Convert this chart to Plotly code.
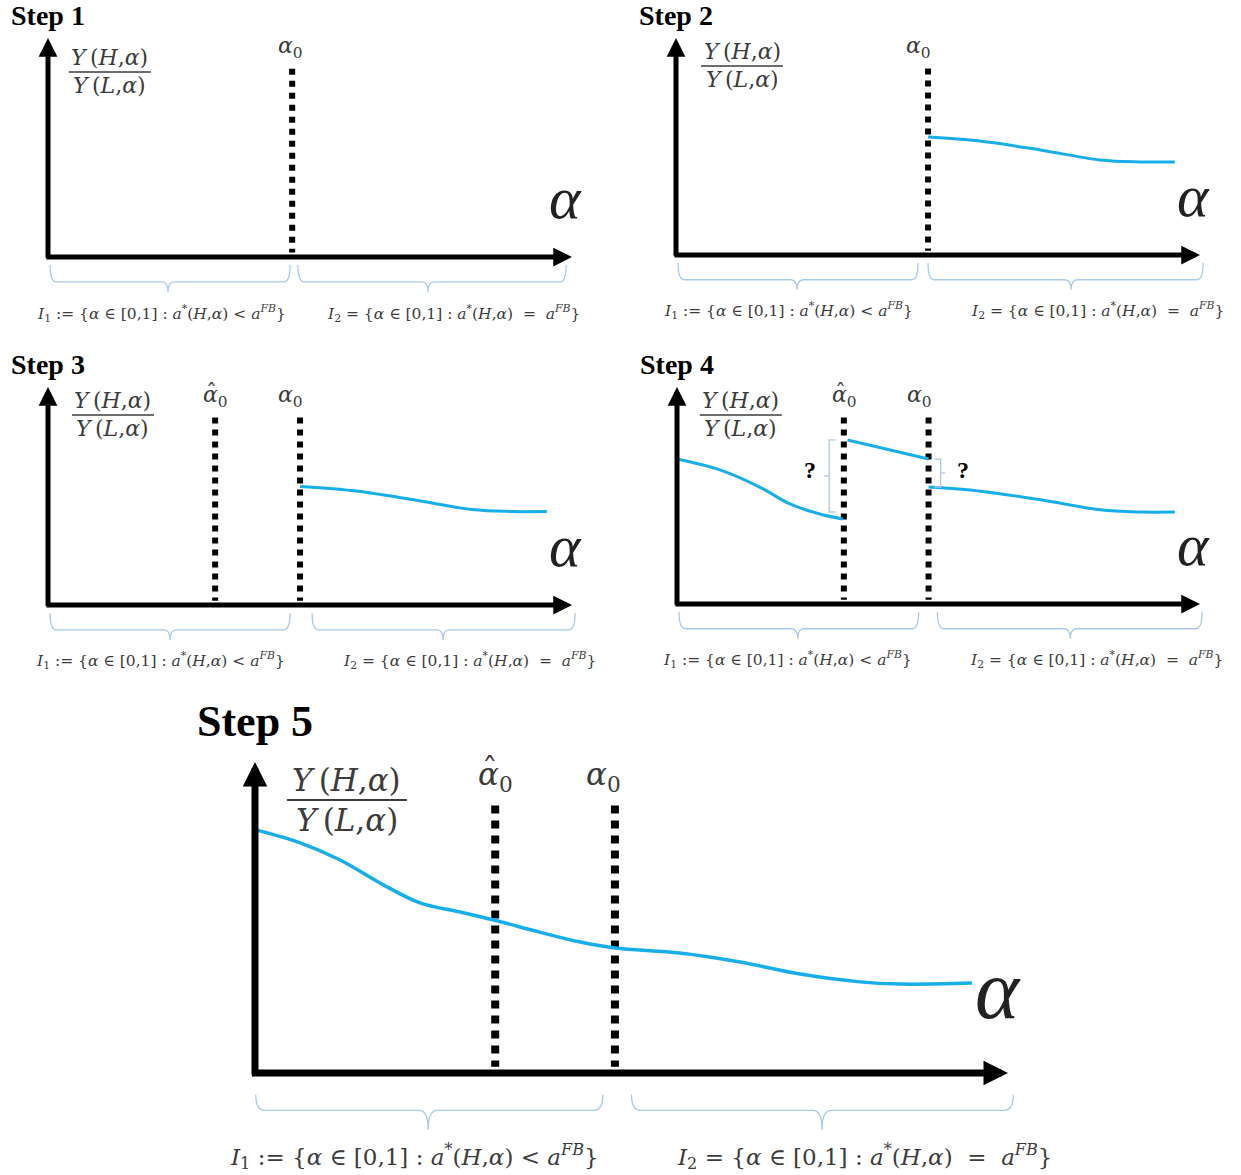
import plotly.graph_objects as go

W, H = 1241, 1175

# ---------------- data ----------------
steps = ["Step 1", "Step 2", "Step 3", "Step 4", "Step 5"]
alpha0_by_step = [0.466, 0.481, 0.481, 0.481, 0.478]
alpha_hat0 = 0.319

# ratio curve on I2 (steps 2-3)
right_alpha = [0.481, 0.580, 0.695, 0.809, 0.885, 0.952]
right_ratio = [0.544, 0.525, 0.484, 0.438, 0.429, 0.429]
# step 4: curve left of alpha_hat0, segment between the two cut-offs, curve on I2
left_alpha = [0.0, 0.082, 0.158, 0.216, 0.273, 0.317]
left_ratio = [0.668, 0.618, 0.539, 0.461, 0.415, 0.392]
mid_alpha = [0.326, 0.481]
mid_ratio = [0.756, 0.668]
right4_ratio = [0.539, 0.520, 0.480, 0.434, 0.424, 0.424]
# step 5: final continuous curve
final_alpha = [0.003, 0.060, 0.113, 0.166, 0.219, 0.272, 0.317, 0.378, 0.432,
               0.478, 0.564, 0.644, 0.724, 0.803, 0.857, 0.952]
final_ratio = [0.781, 0.740, 0.685, 0.611, 0.547, 0.518, 0.492, 0.453, 0.421,
               0.402, 0.386, 0.357, 0.318, 0.293, 0.286, 0.289]

I1_text = ("<i>I</i><sub>1</sub> := {<i>α</i> ∈ [0,1] : <i>a</i><sup>*</sup>(<i>H</i>,<i>α</i>) "
           "&lt; <i>a</i><sup><i>FB</i></sup>}")
I2_text = ("<i>I</i><sub>2</sub> = {<i>α</i> ∈ [0,1] : <i>a</i><sup>*</sup>(<i>H</i>,<i>α</i>) "
           " =  <i>a</i><sup><i>FB</i></sup>}")
num_text = "<i>Y</i>\u2009(<i>H</i>,<i>α</i>)"
den_text = "<i>Y</i>\u2009(<i>L</i>,<i>α</i>)"

# ---------------- layout geometry (pixels of the page) ----------------
panels = [
    dict(ox=48, oy=257, sx=524, sy=219, s=1.0, fy=0.845, fx=0.118,
         br=[(0.004, 0.462, 0.229), (0.477, 0.989, 0.725)], lab=(0.216, 0.773)),
    dict(ox=676, oy=255, sx=524, sy=217, s=1.0, fy=0.871, fx=0.126,
         br=[(0.004, 0.462, 0.231), (0.481, 1.006, 0.754)], lab=(0.214, 0.805)),
    dict(ox=48, oy=605, sx=524, sy=218, s=1.0, fy=0.872, fx=0.124,
         br=[(0.004, 0.462, 0.233), (0.504, 1.006, 0.754)], lab=(0.214, 0.805)),
    dict(ox=677, oy=604, sx=523, sy=217, s=1.0, fy=0.871, fx=0.122,
         br=[(0.004, 0.462, 0.231), (0.498, 1.004, 0.752)], lab=(0.212, 0.803)),
    dict(ox=255, oy=1073, sx=753, sy=311, s=1.44, fy=0.878, fx=0.122,
         br=[(0.001, 0.462, 0.230), (0.500, 1.007, 0.753)], lab=(0.212, 0.810)),
]
XR = [-0.06, 1.04]
YR = [-0.30, 1.18]

CURVE = "#17AEEA"
BRACE = "#A9C9EA"
TXT = "#3c3c3c"
SERIF = "Liberation Serif, Times New Roman, serif"
MATH = "DejaVu Serif, serif"

fig = go.Figure()
layout_axes = {}

for i, p in enumerate(panels):
    n = i + 1
    suf = "" if n == 1 else str(n)
    xa, ya = "x" + suf, "y" + suf
    ox, oy, sx, sy, s = p["ox"], p["oy"], p["sx"], p["sy"], p["s"]
    dx = [(ox + XR[0] * sx) / W, (ox + XR[1] * sx) / W]
    dy = [1 - (oy - YR[0] * sy) / H, 1 - (oy - YR[1] * sy) / H]
    dx = [max(0, dx[0]), min(1, dx[1])]
    dy = [max(0, dy[0]), min(1, dy[1])]
    layout_axes["xaxis" + suf] = dict(domain=dx, visible=False, anchor=ya, fixedrange=True,
                                      range=[(dx[0] * W - ox) / sx, (dx[1] * W - ox) / sx])
    layout_axes["yaxis" + suf] = dict(domain=dy, visible=False, anchor=xa, fixedrange=True,
                                      range=[(oy - (1 - dy[0]) * H) / sy, (oy - (1 - dy[1]) * H) / sy])

    a0 = alpha0_by_step[i]
    lw = 5 if s == 1 else 7
    dotw = 6 if s == 1 else 8
    dash = "6px,6px" if s == 1 else "8px,7px"

    def dotted(a, top):
        fig.add_trace(go.Scatter(x=[a, a], y=[top, 0.02], mode="lines", xaxis=xa, yaxis=ya,
                                 line=dict(color="black", width=dotw, dash=dash),
                                 showlegend=False, hoverinfo="skip"))

    def curve(xs, ys):
        fig.add_trace(go.Scatter(x=xs, y=ys, mode="lines", xaxis=xa, yaxis=ya,
                                 line=dict(color=CURVE, width=3 if s == 1 else 3.5, shape="spline"),
                                 showlegend=False, hoverinfo="skip"))

    # dotted cut-off lines
    dotted(a0, 0.86)
    if n >= 3:
        dotted(alpha_hat0, 0.86)

    # curves
    if n in (2, 3):
        curve(right_alpha, right_ratio)
    if n == 4:
        curve(left_alpha, left_ratio)
        curve(mid_alpha, mid_ratio)
        curve(right_alpha, right4_ratio)
    if n == 5:
        curve(final_alpha, final_ratio)

    # axes with arrows
    for (x0, y0, x1, y1) in [(0, -0.01, 0, 1.0), (-0.006, 0, 1.0, 0)]:
        fig.add_annotation(x=x1, y=y1, ax=x0, ay=y0, xref=xa, yref=ya, axref=xa, ayref=ya,
                           text="", showarrow=True, arrowhead=2, arrowsize=0.75 if s == 1 else 0.7,
                           arrowwidth=lw, arrowcolor="black", standoff=0, startstandoff=0)

    # step title
    fig.add_annotation(x=0, y=1.105 if s == 1 else 1.129, xref=xa, yref=ya,
                       text="<b>%s</b>" % steps[i], showarrow=False,
                       font=dict(family=SERIF, size=28 if s == 1 else 44, color="black"),
                       xanchor="center", yanchor="middle")

    # y label fraction
    fx = p["fx"]
    fsz = 22 if s == 1 else 31
    off = 14 if s == 1 else 20
    fig.add_annotation(x=fx, y=p["fy"], xref=xa, yref=ya, yshift=off, showarrow=False,
                       text=num_text, font=dict(family=MATH, size=fsz, color=TXT))
    fig.add_annotation(x=fx, y=p["fy"], xref=xa, yref=ya, yshift=-off, showarrow=False,
                       text=den_text, font=dict(family=MATH, size=fsz, color=TXT))
    bw = (82 if s == 1 else 120) / sx / 2
    fig.add_shape(type="line", xref=xa, yref=ya, x0=fx - bw, x1=fx + bw, y0=p["fy"], y1=p["fy"],
                  line=dict(color=TXT, width=1.5 if s == 1 else 2))

    # alpha labels
    asz = 22 if s == 1 else 31
    fig.add_annotation(x=0.463, y=0.955, xref=xa, yref=ya, showarrow=False,
                       text="<i>α</i><sub>0</sub>", font=dict(family=MATH, size=asz, color=TXT))
    if n >= 3:
        fig.add_annotation(x=0.32, y=0.955, xref=xa, yref=ya, showarrow=False,
                           text="<i>α</i><sub>0</sub>", font=dict(family=MATH, size=asz, color=TXT))
        fig.add_annotation(x=0.32, y=0.955, xref=xa, yref=ya, showarrow=False,
                           xshift=-4 * s, yshift=4 * s,
                           text="ˆ", font=dict(family=MATH, size=asz, color=TXT))

    # big alpha on the x axis
    fig.add_annotation(x=0.987, y=0.27, xref=xa, yref=ya, showarrow=False,
                       text="<i>α</i>", font=dict(family=SERIF, size=60 if s == 1 else 84, color="#222"))

    # braces under the axis
    yt, yh, yc = (-0.037, -0.114, -0.16) if s == 1 else (-0.07, -0.12, -0.183)
    for (b0, b1, bc) in p["br"]:
        r = 0.012
        path = (f"M{b0},{yt} Q{b0},{yh} {b0 + r},{yh} L{bc - r},{yh} Q{bc},{yh} {bc},{yc} "
                f"Q{bc},{yh} {bc + r},{yh} L{b1 - r},{yh} Q{b1},{yh} {b1},{yt}")
        fig.add_shape(type="path", path=path, xref=xa, yref=ya, line=dict(color=BRACE, width=1.3))

    # interval labels
    lsz = 15.5 if s == 1 else 23
    ly = -0.256 if s == 1 else -0.27
    fig.add_annotation(x=p["lab"][0], y=ly, xref=xa, yref=ya, showarrow=False, text=I1_text,
                       font=dict(family=MATH, size=lsz, color=TXT))
    fig.add_annotation(x=p["lab"][1], y=ly, xref=xa, yref=ya, showarrow=False, text=I2_text,
                       font=dict(family=MATH, size=lsz, color=TXT))

    # step 4 jump brackets and question marks
    if n == 4:
        lb = "M0.303,0.756 L0.291,0.756 L0.291,0.59 L0.281,0.59 L0.291,0.59 L0.291,0.424 L0.303,0.424"
        rb = "M0.492,0.668 L0.504,0.668 L0.504,0.604 L0.513,0.604 L0.504,0.604 L0.504,0.539 L0.492,0.539"
        for pth in (lb, rb):
            fig.add_shape(type="path", path=pth, xref=xa, yref=ya, line=dict(color=BRACE, width=1.3))
        for qx in (0.254, 0.546):
            fig.add_annotation(x=qx, y=0.618, xref=xa, yref=ya, showarrow=False, text="<b>?</b>",
                               font=dict(family=SERIF, size=24, color="black"))

fig.update_layout(width=W, height=H, margin=dict(l=0, r=0, t=0, b=0),
                  plot_bgcolor="white", paper_bgcolor="white", showlegend=False, **layout_axes)
fig.write_html("out.html", config={"displayModeBar": False},
               post_script="document.body.style.margin='0px';document.body.style.overflow='hidden';")
